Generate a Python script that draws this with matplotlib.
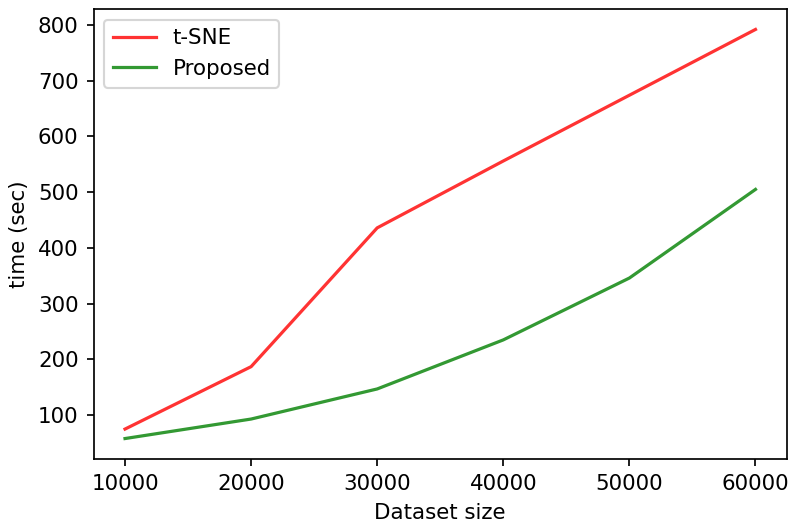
import matplotlib
matplotlib.use("Agg")
import matplotlib.pyplot as plt

dataset_size = [10000, 20000, 30000, 40000, 50000, 60000]
tsne_time = [75, 187, 436, 556, 674, 792]
proposed_time = [58, 93, 147, 235, 346, 505]

W, H = 788, 524
dpi = 154
fig = plt.figure(figsize=(W / dpi, H / dpi), dpi=dpi)
ax = fig.add_axes([93.5 / W, 1 - 459 / H, (787 - 93.5) / W, (459 - 9) / H])

ax.plot(dataset_size, tsne_time, color="red", alpha=0.8, label="t-SNE")
ax.plot(dataset_size, proposed_time, color="green", alpha=0.8, label="Proposed")

ax.set_xlabel("Dataset size")
ax.set_ylabel("time (sec)")
ax.legend(loc="upper left")

fig.savefig("out.png", dpi=dpi)
